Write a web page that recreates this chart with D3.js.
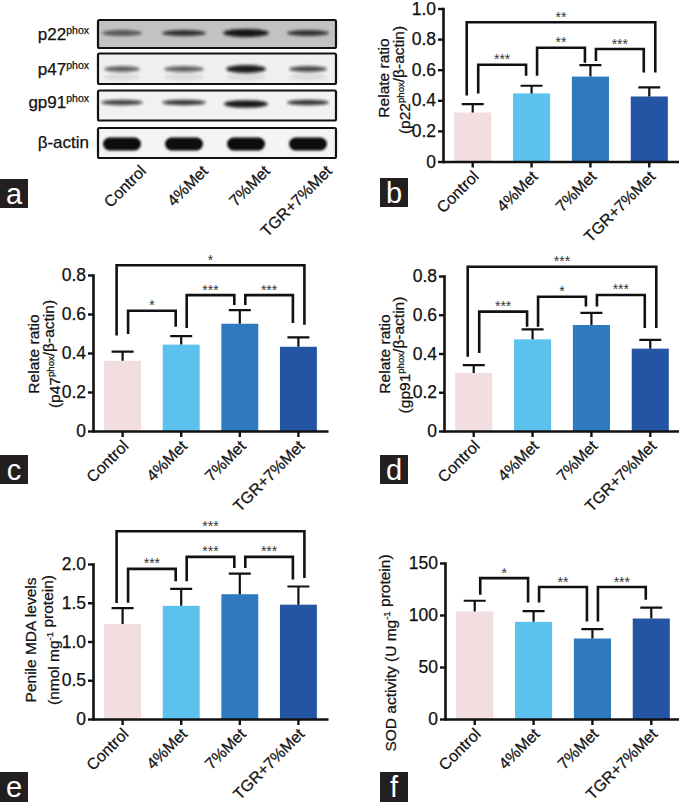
<!DOCTYPE html>
<html><head><meta charset="utf-8">
<script src="https://cdn.jsdelivr.net/npm/d3@7"></script>
<style>
body{margin:0;background:#fff}
svg{display:block}
text{font-family:"Liberation Sans",Arial,Helvetica,sans-serif;fill:#111;stroke:#111;stroke-width:0.25px}
</style>
</head><body>
<svg id="fig" width="679" height="802"></svg>
<script>
// ---------- data ----------
const groups = ["Control", "4%Met", "7%Met", "TGR+7%Met"];
const barColors = ["#f2dde1", "#5bc2ee", "#2f79bf", "#2455a4"];

const p22Mean = [0.32, 0.445, 0.555, 0.425];
const p22Err  = [0.055, 0.05, 0.075, 0.06];
const p47Mean = [0.36, 0.443, 0.55, 0.432];
const p47Err  = [0.047, 0.044, 0.07, 0.048];
const gp91Mean = [0.30, 0.473, 0.547, 0.425];
const gp91Err  = [0.04, 0.052, 0.063, 0.045];
const mdaMean = [1.225, 1.46, 1.61, 1.475];
const mdaErr  = [0.205, 0.22, 0.265, 0.235];
const sodMean = [103.4, 93.4, 77.4, 96.6];
const sodErr  = [10.3, 10.4, 9.0, 10.4];

const ratioTicks1 = [0, 0.2, 0.4, 0.6, 0.8, 1.0];
const ratioTickLabels1 = ["0", "0.2", "0.4", "0.6", "0.8", "1.0"];
const ratioTicks = [0, 0.2, 0.4, 0.6, 0.8];
const ratioTickLabels = ["0", "0.2", "0.4", "0.6", "0.8"];
const mdaTicks = [0, 0.5, 1.0, 1.5, 2.0];
const mdaTickLabels = ["0", "0.5", "1.0", "1.5", "2.0"];
const sodTicks = [0, 50, 100, 150];
const sodTickLabels = ["0", "50", "100", "150"];

// significance brackets: [from, to, level, left leg end, right leg end, label]
const p22Sig = [[0,3,0.91,0.431,0.582,"**"],[0,1,0.632,0.444,0.56,"***"],[1,2,0.743,0.56,0.646,"**"],[2,3,0.735,0.657,0.582,"***"]];
const p47Sig = [[0,3,0.85,0.49,0.545,"*"],[0,1,0.617,0.497,0.535,"*"],[1,2,0.697,0.528,0.646,"***"],[2,3,0.697,0.646,0.554,"***"]];
const gp91Sig = [[0,3,0.848,0.383,0.532,"***"],[0,1,0.616,0.403,0.538,"***"],[1,2,0.693,0.538,0.642,"*"],[2,3,0.702,0.642,0.532,"***"]];
const mdaSig = [[0,3,2.423,1.497,1.82,"***"],[0,1,1.937,1.50,1.776,"***"],[1,2,2.092,1.776,1.95,"***"],[2,3,2.092,1.95,1.80,"***"]];
const sodSig = [[0,1,135.5,119.5,112,"*"],[1,2,126.9,112,93.7,"**"],[2,3,126.9,93.7,114.6,"***"]];

// western blot rows (relative band intensity per lane)
const blotRows = ["p22", "p47", "gp91", "β-actin"];
const blotSup = ["phox", "phox", "phox", ""];
const p22Bands = [0.6, 0.82, 0.95, 0.8];
const p47Bands = [0.62, 0.62, 0.92, 0.72];
const gp91Bands = [0.75, 0.8, 0.95, 0.82];
const actinBands = [1, 1, 1, 1];

// ---------- drawing ----------
const svg = d3.select("#fig");
const defs = svg.append("defs");
defs.append("filter").attr("id","blur1").attr("x","-30%").attr("y","-100%").attr("width","160%").attr("height","300%")
  .append("feGaussianBlur").attr("stdDeviation", 1.4);
defs.append("filter").attr("id","blur2").attr("x","-30%").attr("y","-100%").attr("width","160%").attr("height","300%")
  .append("feGaussianBlur").attr("stdDeviation", 1.0);

const INK = "#111";

function xLabels(g, xpos, baseY, dx, dy) {
  g.selectAll("text.xl").data(groups).join("text").attr("class","xl")
    .attr("text-anchor","end")
    .attr("font-size", 16)
    .attr("transform", d => `translate(${xpos(d)+dx},${baseY+dy}) rotate(-45)`)
    .text(d => d);
}

function panelLetter(x, y, w, h, ch) {
  svg.append("rect").attr("x",x).attr("y",y).attr("width",w).attr("height",h).attr("fill","#231f20");
  svg.append("text").attr("x", x + w/2).attr("y", y + h/2 + 10).attr("text-anchor","middle")
    .attr("font-size", 29).style("fill","#fff").style("stroke","none").text(ch);
}

function yTitle(lines, tx, ymid, fs) {
  lines.forEach((ln, k) => {
    const t = svg.append("text").attr("text-anchor","middle").attr("font-size", fs)
      .attr("transform", `translate(${tx[k]},${ymid[k]}) rotate(-90)`);
    ln.forEach(seg => {
      if (seg.sup) {
        t.append("tspan").attr("dy", -fs*0.38).attr("font-size", fs*0.62).text(seg.sup);
        t.append("tspan").attr("dy", fs*0.38).text("");
      } else t.append("tspan").text(seg.t);
    });
  });
}

function barPanel(o) {
  const g = svg.append("g");
  const x = d3.scaleBand().domain(groups).range([o.x0, o.x1]).paddingInner(0.37).paddingOuter(0.19);
  const y = d3.scaleLinear().domain([0, o.ymax]).range([o.yb, o.yt]);
  const cx = i => x(groups[i]) + x.bandwidth()/2;

  g.selectAll("rect.bar").data(groups).join("rect")
    .attr("x", d => x(d)).attr("width", x.bandwidth())
    .attr("y", (d,i) => y(o.mean[i])).attr("height", (d,i) => y(0) - y(o.mean[i]))
    .attr("fill", (d,i) => barColors[i]);

  // error bars (upper half)
  g.selectAll("path.err").data(groups).join("path")
    .attr("d", (d,i) => {
      const c = cx(i), t = y(o.mean[i] + o.err[i]);
      return `M${c},${y(o.mean[i])}V${t}M${c-11},${t}H${c+11}`;
    })
    .attr("fill","none").attr("stroke", INK).attr("stroke-width", 2.2);

  // y axis
  const ya = d3.axisLeft(y).tickValues(o.ticks).tickFormat((d,i) => o.tickLabels[i])
    .tickSize(5).tickSizeOuter(0).tickPadding(2);
  const yg = g.append("g").attr("transform", `translate(${o.x0},0)`).call(ya);
  yg.select(".domain").attr("stroke", INK).attr("stroke-width", 2.6).attr("stroke-linecap","square");
  yg.selectAll(".tick line").attr("stroke", INK).attr("stroke-width", 2.4);
  yg.selectAll(".tick text").attr("font-size", 17.5).style("font-family", '"Liberation Sans",Arial,sans-serif')
    .attr("fill", INK).attr("stroke", INK).attr("stroke-width", 0.25);

  // x axis
  const xa = d3.axisBottom(x).tickSize(6).tickSizeOuter(0).tickFormat("");
  const xg = g.append("g").attr("transform", `translate(0,${o.yb})`).call(xa);
  xg.select(".domain").attr("stroke", INK).attr("stroke-width", 2.6);
  xg.selectAll(".tick line").attr("stroke", INK).attr("stroke-width", 2.4);
  xLabels(g, d => x(d) + x.bandwidth()/2, o.yb, 7, 16);

  // significance brackets
  o.sig.forEach(s => {
    const [a, b, lv, la, lb, lab] = s;
    const outer = (a === 0 && b === 3);
    const off = outer ? -6 : 5.5;
    const lx = cx(a) + off, rx = cx(b) - off;
    g.append("path").attr("d", `M${lx},${y(la)}V${y(lv)}H${rx}V${y(lb)}`)
      .attr("fill","none").attr("stroke", INK).attr("stroke-width", 2.6).attr("stroke-linejoin","miter");
    g.append("text").attr("x", (lx+rx)/2).attr("y", y(lv) - 0.5).attr("text-anchor","middle")
      .attr("font-size", 14).style("fill","#333").style("stroke","none").text(lab);
  });
}

// ---------- panel a: western blot ----------
(function blot() {
  const g = svg.append("g");
  const lane = d3.scalePoint().domain(groups).range([122, 308]);
  const rows = [
    {y:20, h:28, bg:"#c2c2c2", band:p22Bands, by:33, bh:6, w:[40,44,46,42]},
    {y:53.5, h:30.5, bg:"#f0f0f0", band:p47Bands, by:69, bh:6, w:[36,40,40,38], ghost:true},
    {y:90.5, h:30, bg:"#f1f1f1", band:gp91Bands, by:102.5, bh:5.5, w:[42,44,44,42]},
    {y:128, h:30, bg:"#f4f4f4", band:actinBands, by:144, bh:13, w:[38,38,38,38], actin:true}
  ];
  rows.forEach((r, k) => {
    g.append("rect").attr("x", 98).attr("y", r.y).attr("width", 238).attr("height", r.h)
      .attr("rx", 1.5).attr("fill", r.bg).attr("stroke", "#111").attr("stroke-width", 2.2);
    groups.forEach((gr, i) => {
      const c = lane(gr);
      if (r.ghost) {
        g.append("ellipse").attr("cx", c).attr("cy", r.by + 8).attr("rx", r.w[i]/2).attr("ry", 3.5)
          .attr("fill", "#000").attr("opacity", 0.08).attr("filter","url(#blur1)");
      }
      if (r.actin) {
        g.append("rect").attr("x", c - r.w[i]/2).attr("y", r.by - r.bh/2).attr("width", r.w[i]).attr("height", r.bh)
          .attr("rx", 6.5).attr("fill", "#0c0c0c").attr("filter","url(#blur2)");
      } else {
        g.append("ellipse").attr("cx", c).attr("cy", r.by + (i===2 && k===2 ? 1.5 : 0)).attr("rx", r.w[i]/2).attr("ry", r.bh/2 + (i===2 ? 1 : 0))
          .attr("fill", "#0d0d0d").attr("opacity", r.band[i]).attr("filter","url(#blur1)");
      }
    });
    const baseY = [40, 75, 108, 148][k];
    const t = g.append("text").attr("x", 89).attr("y", baseY).attr("text-anchor","end").attr("font-size", 17);
    t.append("tspan").text(blotRows[k]);
    if (blotSup[k]) t.append("tspan").attr("dy", -6).attr("font-size", 10.5).text(blotSup[k]);
  });
  xLabels(g, d => lane(d), 158, 25, 14);
})();

// ---------- panels b-f ----------
barPanel({x0:443, x1:679, yb:161.5, yt:8.5, ymax:1.0, mean:p22Mean, err:p22Err, ticks:ratioTicks1, tickLabels:ratioTickLabels1, sig:p22Sig});
barPanel({x0:93, x1:328, yb:431, yt:275, ymax:0.8, mean:p47Mean, err:p47Err, ticks:ratioTicks, tickLabels:ratioTickLabels, sig:p47Sig});
barPanel({x0:444, x1:680, yb:431, yt:276, ymax:0.8, mean:gp91Mean, err:gp91Err, ticks:ratioTicks, tickLabels:ratioTickLabels, sig:gp91Sig});
barPanel({x0:93, x1:328, yb:719, yt:564, ymax:2.0, mean:mdaMean, err:mdaErr, ticks:mdaTicks, tickLabels:mdaTickLabels, sig:mdaSig});
barPanel({x0:445, x1:681, yb:719, yt:563, ymax:150, mean:sodMean, err:sodErr, ticks:sodTicks, tickLabels:sodTickLabels, sig:sodSig});

// axis titles
yTitle([[{t:"Relate ratio"}], [{t:"(p22"},{sup:"phox"},{t:"/β-actin)"}]], [389, 410], [78, 80], 15.5);
yTitle([[{t:"Relate ratio"}], [{t:"(p47"},{sup:"phox"},{t:"/β-actin)"}]], [39, 60], [354, 354], 15.5);
yTitle([[{t:"Relate ratio"}], [{t:"(gp91"},{sup:"phox"},{t:"/β-actin)"}]], [390, 410], [354, 355], 15.5);
yTitle([[{t:"Penile MDA levels"}], [{t:"(nmol mg"},{sup:"-1"},{t:" protein)"}]], [36, 59], [640, 640], 15.5);
yTitle([[{t:"SOD activity (U mg"},{sup:"-1"},{t:" protein)"}]], [396], [653], 15.5);

// panel letters
panelLetter(0, 179, 28, 29, "a");
panelLetter(380, 178, 28, 29, "b");
panelLetter(0, 455, 28, 29, "c");
panelLetter(380, 455, 28, 29, "d");
panelLetter(0, 772, 28, 30, "e");
panelLetter(380, 772, 28, 30, "f");
</script>
</body></html>
